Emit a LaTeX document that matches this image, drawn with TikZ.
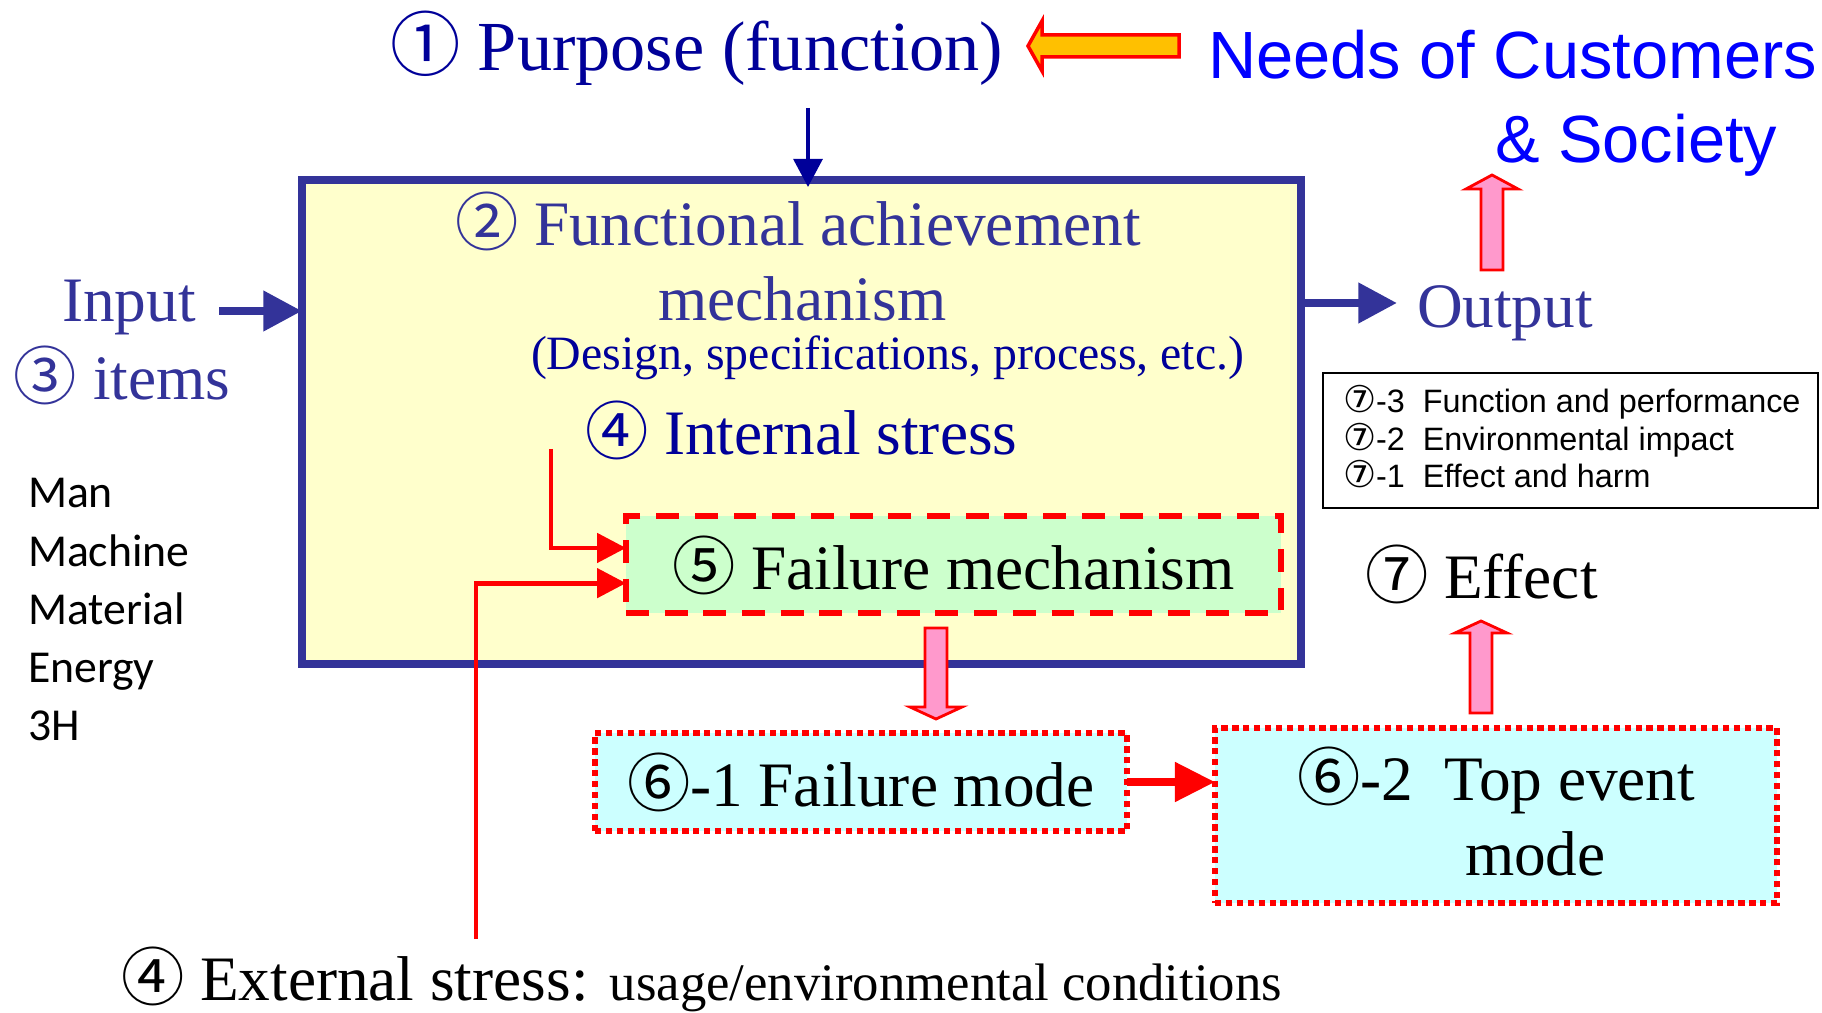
\documentclass[tikz,border=0pt]{standalone}
\usepackage{fontspec}
\setmainfont{Liberation Serif}
\setsansfont{Liberation Sans}
\newfontfamily\cjk{Noto Sans CJK JP}
\newfontfamily\dvs{DejaVu Sans}
\newfontfamily\calfont{Carlito}
\usetikzlibrary{arrows.meta,fit,positioning,calc}

\definecolor{navy}{HTML}{000099}
\definecolor{slate}{HTML}{333399}
\definecolor{needsblue}{HTML}{0000FF}
\definecolor{boxyellow}{HTML}{FFFFCC}
\definecolor{mechgreen}{HTML}{CCFFCC}
\definecolor{modecyan}{HTML}{CCFFFF}
\definecolor{pinkfill}{HTML}{FF99CC}
\definecolor{arrowgold}{HTML}{FFC000}

\newcommand{\fsz}[1]{\fontsize{#1}{#1}\selectfont}
\newcommand{\cnum}[1]{{\cjk #1}}

\tikzstyle{every node}+=[inner sep=0pt,outer sep=0pt]
\tikzstyle{txt}=[anchor=base west,font=\fsz{18}]
\tikzstyle{navytxt}=[txt,text=navy]
\tikzstyle{slatetxt}=[txt,text=slate]
\tikzstyle{needstxt}=[anchor=base west,text=needsblue,font=\sffamily\fsz{19}]
\tikzstyle{listtxt}=[anchor=base west,font=\calfont\fsz{13}]
\tikzstyle{legtxt}=[anchor=base west,font=\sffamily\fsz{9.2}]
\tikzstyle{mainbox}=[draw=slate,fill=boxyellow,line width=2.3pt]
\tikzstyle{mechbox}=[draw=red,fill=mechgreen,line width=1.7pt,dash pattern=on 6.5pt off 4.5pt]
\tikzstyle{modebox}=[draw=red,fill=modecyan,line width=1.6pt,dash pattern=on 1.8pt off 1.3pt]
\tikzstyle{legendbox}=[draw=black,line width=0.6pt]
\tikzstyle{bluearr}=[slate,line width=2.4pt,-{Triangle[length=11pt,width=11pt]}]
\tikzstyle{navyarr}=[navy,line width=1.1pt,-{Triangle[length=8pt,width=8.2pt]}]
\tikzstyle{redarr}=[red,line width=1.4pt,-{Triangle[length=8.2pt,width=8.2pt]}]
\tikzstyle{redbig}=[red,line width=2.3pt,-{Triangle[length=11.4pt,width=10.8pt]}]
\tikzstyle{blockarr}=[draw=red,fill=pinkfill,line width=0.8pt]
\tikzstyle{goldarr}=[draw=red,fill=arrowgold,line width=1pt]

% hollow pink arrows: x/tail/tip/head base
\newcommand{\blockarrows}[1]{
	\foreach \x/\t/\p/\h in {#1}{
		\draw[blockarr] ({\x-11},\t) -- ({\x-11},\h) -- ({\x-26},\h) -- (\x,\p)
			-- ({\x+26},\h) -- ({\x+11},\h) -- ({\x+11},\t) -- cycle;
	}
}

\begin{document}
\begin{tikzpicture}[x=0.01cm,y=-0.01cm]
\useasboundingbox (0,0) rectangle (1822,1013);

% purpose and needs
\node[navytxt,font=\fsz{20}] (purpose) at (390,71) {\cnum{①} Purpose (function)};
\node[needstxt] (needs) at (1208,79) {Needs of Customers};
\node[needstxt] (society) at (1495,163) {\& Society};
\draw[goldarr] (1179,35) -- (1042,35) -- (1042,21) -- (1028,46) -- (1042,71)
	-- (1042,57) -- (1179,57) -- cycle;

% boxes
\node[mainbox,fit={(302,180) (1301,664)}] (mech) {};
\node[mechbox,fit={(626,516) (1281,613)}] (fmech) {};
\node[modebox,fit={(595,733) (1127,831)}] (fmode) {};
\node[modebox,fit={(1215,728) (1777,903)}] (tevent) {};
\node[legendbox,fit={(1323,373) (1818,508)}] (legend) {};

% texts in the mechanism box
\node[slatetxt] (func) at (455,246) {\cnum{②} Functional achievement};
\node[slatetxt] (func2) at (658,321) {mechanism};
\node[navytxt,font=\fsz{13.6}] (design) at (531,370) {(Design, specifications, process, etc.)};
\node[navytxt] (istress) at (585,455) {\cnum{④} Internal stress};
\node[txt] (fmechtxt) at (672,589) {\cnum{⑤} Failure mechanism};
\node[txt] (fmodetxt) at (627,806) {\cnum{⑥}-1 Failure mode};
\node[txt] (tevtxt) at (1297,800) {\cnum{⑥}-2\ \ Top event};
\node[txt] (tevtxt2) at (1465,875) {mode};

% input / output
\node[slatetxt] (input) at (62,322) {Input};
\node[slatetxt] (items) at (14,400) {\cnum{③} items};
\node[slatetxt] (output) at (1417,328) {Output};
\node[txt] (effect) at (1365,598) {\cnum{⑦} Effect};
\foreach \w [count=\i] in {Man,Machine,Material,Energy,3H}
	\node[listtxt] (m\i) at (28,{508+58*(\i-1)}) {\w};
\foreach \n/\w [count=\i] in {3/Function and performance,2/Environmental impact,1/Effect and harm}
	\node[legtxt] (leg\i) at (1343,{413+37.5*(\i-1)}) {{\dvs\fsz{10.5}⑦}-\n\ \ \w};

\node[txt] (estress) at (121,1000) {\cnum{④} External stress: {\fsz{15}usage/environmental conditions}};

% connectors
\coordinate (pdown) at (808,108);
\coordinate (inA) at (219,311);
\coordinate (outB) at (1397,303);
\coordinate (istart) at (551,449);
\coordinate (estart) at (476,939);
\draw[navyarr,shorten >=-2pt] (pdown) -- (pdown |- mech.north);
\draw[bluearr] (inA) -- (inA -| mech.west);
\draw[bluearr] (outB -| mech.east) -- (outB);
\draw[redarr] (istart) |- ([yshift=4.7pt]fmech.west);
\draw[redarr] (estart) |- ([yshift=-5.3pt]fmech.west);
\draw[redbig] (fmode.east) -- (fmode.east -| tevent.west);
\blockarrows{936/628/719/707,1481/713/621/633,1492/270/175/189}
\end{tikzpicture}
\end{document}
